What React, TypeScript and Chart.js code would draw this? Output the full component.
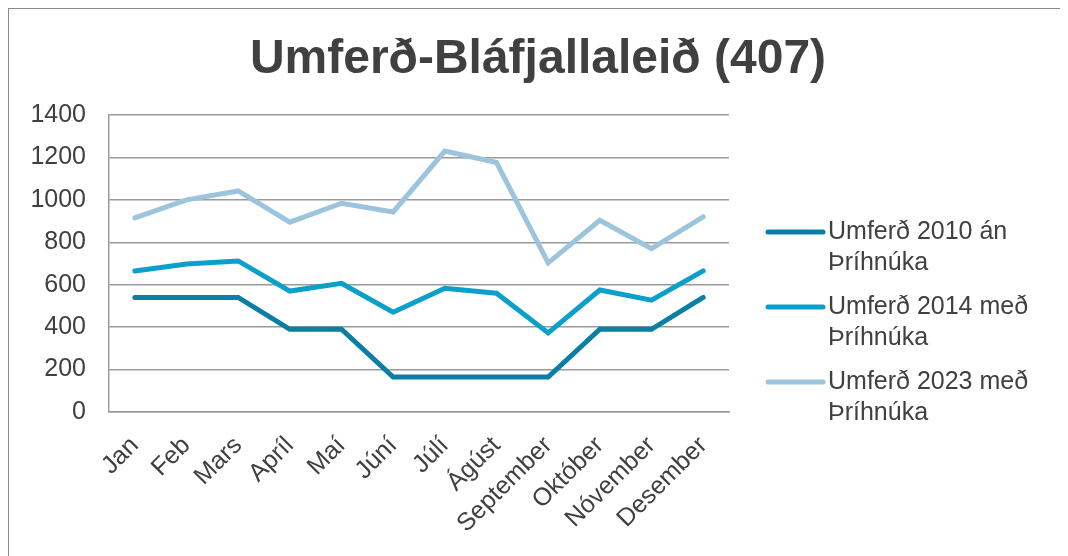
import React, { useEffect, useRef } from "react";
import { Chart, registerables } from "chart.js";

Chart.register(...registerables);

const months = ["Jan", "Feb", "Mars", "Apríl", "Maí", "Júní", "Júlí", "Ágúst", "September", "Október", "Nóvember", "Desember"];
const traffic2010 = [540, 540, 540, 390, 390, 165, 165, 165, 165, 390, 390, 540];
const traffic2014 = [665, 698, 712, 570, 607, 470, 583, 560, 373, 575, 527, 665];
const traffic2023 = [915, 1000, 1042, 895, 984, 943, 1230, 1176, 703, 904, 770, 920];
const seriesLabels = [
  ["Umferð 2010 án", "Þríhnúka"],
  ["Umferð 2014 með", "Þríhnúka"],
  ["Umferð 2023 með", "Þríhnúka"],
];
const seriesColors = ["#0A7FA6", "#0BA0CA", "#9DC4DD"];
const yTicks = [0, 200, 400, 600, 800, 1000, 1200, 1400];
const titleText = "Umferð-Bláfjallaleið (407)";

const FONT = "'Liberation Sans', Arial, sans-serif";
const TEXT = "#404040";
const GRID = "#9a9a9a";

const overlayPlugin = {
  id: "titleAndLegend",
  afterDraw(chart: any) {
    const ctx = chart.ctx;
    ctx.save();
    // title
    ctx.font = `bold 48px ${FONT}`;
    ctx.fillStyle = TEXT;
    ctx.textAlign = "center";
    ctx.textBaseline = "alphabetic";
    ctx.fillText(titleText, chart.width / 2 + 1, 64);
    // legend
    const lineX0 = 759;
    const lineX1 = 814;
    const textX = 819;
    const firstY = 223;
    const itemGap = 75;
    const lineGap = 31;
    ctx.font = `25px ${FONT}`;
    ctx.textBaseline = "middle";
    ctx.textAlign = "left";
    chart.data.datasets.forEach((ds: any, i: number) => {
      const y = firstY + i * itemGap;
      ctx.strokeStyle = ds.borderColor;
      ctx.lineWidth = 5;
      ctx.lineCap = "round";
      ctx.beginPath();
      ctx.moveTo(lineX0, y);
      ctx.lineTo(lineX1, y);
      ctx.stroke();
      ctx.fillStyle = TEXT;
      const lines: string[] = seriesLabels[i];
      lines.forEach((t, j) => ctx.fillText(t, textX, y + j * lineGap));
    });
    ctx.restore();
  },
};

export default function App() {
  const ref = useRef<HTMLCanvasElement | null>(null);
  useEffect(() => {
    if (!ref.current) return;
    const chart = new Chart(ref.current, {
      type: "line",
      data: {
        labels: months,
        datasets: [traffic2010, traffic2014, traffic2023].map((d, i) => ({
          label: seriesLabels[i].join(" "),
          data: d,
          borderColor: seriesColors[i],
          backgroundColor: seriesColors[i],
          borderWidth: 5,
          borderCapStyle: "round" as const,
          borderJoinStyle: "miter" as const,
          pointRadius: 0,
          tension: 0,
          fill: false,
        })),
      },
      options: {
        responsive: false,
        animation: false,
        layout: { padding: { left: 0, right: 336, top: 106, bottom: 0 } },
        plugins: {
          legend: { display: false },
          tooltip: { enabled: false },
          title: { display: false },
        },
        scales: {
          x: {
            offset: true,
            afterFit(scale: any) {
              scale.height = 155;
            },
            grid: { display: false, drawTicks: false },
            border: { display: true, color: GRID, width: 1.5 },
            ticks: {
              color: TEXT,
              font: { family: FONT, size: 25 },
              minRotation: 45,
              maxRotation: 45,
              autoSkip: false,
              padding: 19,
            },
          },
          y: {
            min: 0,
            max: 1400,
            afterBuildTicks(scale: any) {
              scale.ticks = yTicks.map((v) => ({ value: v }));
            },
            afterFit(scale: any) {
              scale.width = 100;
            },
            grid: { color: GRID, lineWidth: 1.5, drawTicks: false },
            border: { display: true, color: GRID, width: 1.5 },
            ticks: {
              color: TEXT,
              font: { family: FONT, size: 25 },
              padding: 23,
              callback: (v: any) => String(v),
            },
          },
        },
      },
      plugins: [overlayPlugin],
    });
    return () => chart.destroy();
  }, []);
  return (
    <div style={{ width: 1058, height: 560, border: "1px solid #8c8c8c", boxSizing: "border-box" }}>
      <canvas ref={ref} width={1056} height={558} style={{ display: "block" }} />
    </div>
  );
}
